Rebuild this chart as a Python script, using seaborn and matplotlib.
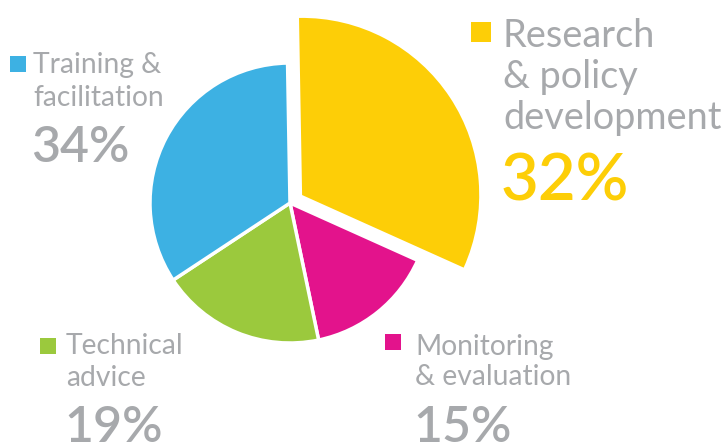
import matplotlib
matplotlib.use("Agg")
import matplotlib.pyplot as plt
import seaborn as sns

sns.set_theme(style="white")
plt.rcParams['font.family'] = ['Lato', 'DejaVu Sans']

categories = ["Research\n& policy\ndevelopment", "Monitoring\n& evaluation",
              "Technical\nadvice", "Training &\nfacilitation"]
values = [32, 15, 19, 34]
pct_labels = ["32%", "15%", "19%", "34%"]
colors = ["#FDCE07", "#E3138C", "#9BC93D", "#3DB1E3"]

W, H = 726, 444
fig = plt.figure(figsize=(W / 100, H / 100), dpi=100)
ax = fig.add_axes([0, 0, 1, 1])

R = 140
cx, cy = 290, 203
wedges, _ = ax.pie(values, colors=colors, startangle=91, counterclock=False,
                   radius=R, center=(cx, H - cy), explode=[14.5, 0, 0, 0],
                   wedgeprops=dict(edgecolor="white", linewidth=2.5))
wedges[0].set_radius(R * 1.265)
wedges[0].set_linewidth(0)

ax.set_xlim(0, W)
ax.set_ylim(0, H)
ax.set_aspect('equal')
ax.axis('off')

gray = "#A7A9AC"

def label(idx, sq, x, baselines, fs, pct_base, pct_fs, pct_color):
    sx, sy, ss = sq
    ax.add_patch(plt.Rectangle((sx, H - sy - ss), ss, ss, color=colors[idx], lw=0))
    for line, b in zip(categories[idx].split("\n"), baselines):
        ax.text(x, H - b, line, fontsize=fs, color=gray, va='baseline', ha='left',
                fontweight='normal')
    ax.text(x - 2, H - pct_base, pct_labels[idx], fontsize=pct_fs, color=pct_color,
            va='baseline', ha='left', fontweight='semibold')

# Research
label(0, (471, 22, 20), 503, [47, 88, 129], 27.3, 200, 47, colors[0])
# Training
label(3, (10, 56, 16), 33, [73, 106], 20.3, 162, 36, gray)
# Technical
label(2, (40, 338, 16), 66, [354, 386], 20.3, 442, 36, gray)
# Monitoring
label(1, (385, 334, 16), 415, [355, 385], 20.3, 442, 36, gray)

fig.savefig("out.png", dpi=100)
